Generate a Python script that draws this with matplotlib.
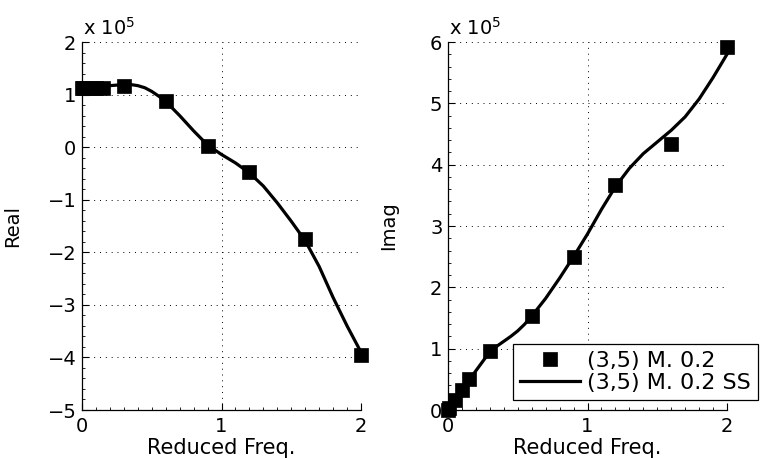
import matplotlib
matplotlib.use("Agg")
import matplotlib.pyplot as plt
from matplotlib.ticker import MultipleLocator, AutoMinorLocator

# measured points (values in units of 1e5)
freq = [0.0, 0.01, 0.05, 0.1, 0.15, 0.3, 0.6, 0.9, 1.2, 1.6, 2.0]
real_meas = [1.13, 1.13, 1.13, 1.12, 1.12, 1.17, 0.88, 0.02, -0.48, -1.74, -3.96]
imag_meas = [0.0, 0.03, 0.16, 0.33, 0.50, 0.96, 1.54, 2.50, 3.67, 4.34, 5.92]

# state-space fit curve
freq_ss = [0.0, 0.05, 0.1, 0.15, 0.2, 0.3, 0.35, 0.4, 0.45, 0.5, 0.55, 0.6, 0.7, 0.8, 0.9,
           1.0, 1.1, 1.2, 1.3, 1.4, 1.5, 1.6, 1.7, 1.8, 1.9, 2.0]
real_ss = [1.13, 1.13, 1.14, 1.15, 1.17, 1.19, 1.19, 1.17, 1.13, 1.06, 0.97, 0.87, 0.60, 0.31, 0.04,
           -0.14, -0.30, -0.49, -0.74, -1.06, -1.41, -1.78, -2.27, -2.86, -3.40, -3.90]
imag_ss = [0.0, 0.15, 0.32, 0.48, 0.64, 0.95, 1.04, 1.12, 1.20, 1.29, 1.40, 1.53, 1.82, 2.15, 2.50,
           2.87, 3.27, 3.64, 3.94, 4.18, 4.37, 4.56, 4.78, 5.07, 5.42, 5.80]

labels = ["(3,5) M. 0.2", "(3,5) M. 0.2 SS"]

plt.rcParams['font.family'] = ['DejaVu Sans']

fig = plt.figure(figsize=(7.82, 4.58), dpi=100)
W, H = 782.0, 458.0
ax1 = fig.add_axes([82 / W, 1 - 410 / H, 279 / W, 368 / H])
ax2 = fig.add_axes([448 / W, 1 - 410 / H, 279 / W, 368 / H])


def style(ax, ylim, ylabel, ylab_x):
    ax.set_xlim(0, 2)
    ax.set_ylim(*ylim)
    ax.xaxis.set_major_locator(MultipleLocator(1))
    ax.yaxis.set_major_locator(MultipleLocator(1))
    ax.xaxis.set_minor_locator(AutoMinorLocator(10))
    ax.yaxis.set_minor_locator(AutoMinorLocator(5))
    for s in ['top', 'right']:
        ax.spines[s].set_visible(False)
    for s in ['left', 'bottom']:
        ax.spines[s].set_linewidth(0.9)
    ax.tick_params(which='major', direction='in', length=5, width=0.8, labelsize=14, pad=5)
    ax.tick_params(which='minor', direction='in', length=2.5, width=0.6)
    ax.tick_params(axis='y', which='major', pad=4)
    ax.grid(True, which='major', color='black', linestyle=(0, (1, 5)), linewidth=0.7)
    ax.set_axisbelow(True)
    ax.set_xlabel("Reduced Freq.", fontsize=15)
    ax.set_ylabel(ylabel, fontsize=14)
    ax.xaxis.set_label_coords(0.5, -0.075)
    ax.yaxis.set_label_coords(ylab_x, 0.5)
    ax.text(0.005, 1.01, r"x 10$^{5}$", transform=ax.transAxes, fontsize=14,
            ha='left', va='bottom')


ax1.plot(freq, real_meas, linestyle='none', marker='s', ms=10.5, mfc='black',
         mec='black', mew=0.5, clip_on=False, zorder=4)
ax1.plot(freq_ss, real_ss, color='black', lw=2.3, clip_on=False, zorder=3)
style(ax1, (-5, 2), "Real", -0.215)

ax2.plot(freq, imag_meas, linestyle='none', marker='s', ms=10.5, mfc='black',
         mec='black', mew=0.5, clip_on=False, zorder=4, label=labels[0])
ax2.plot(freq_ss, imag_ss, color='black', lw=2.3, clip_on=False, zorder=3, label=labels[1])
style(ax2, (0, 6), "Imag", -0.18)

leg = ax2.legend(loc='upper left', bbox_to_anchor=(513 / W, 1 - 344 / H),
                 bbox_transform=fig.transFigure, fontsize=16, frameon=True,
                 fancybox=False, borderpad=0.3, labelspacing=0.1,
                 handlelength=2.7, handletextpad=0.35, borderaxespad=0)
leg.get_frame().set_edgecolor('black')
leg.get_frame().set_linewidth(0.9)
leg.get_frame().set_alpha(1)
leg.set_zorder(10)

fig.savefig("out.png", dpi=100)
